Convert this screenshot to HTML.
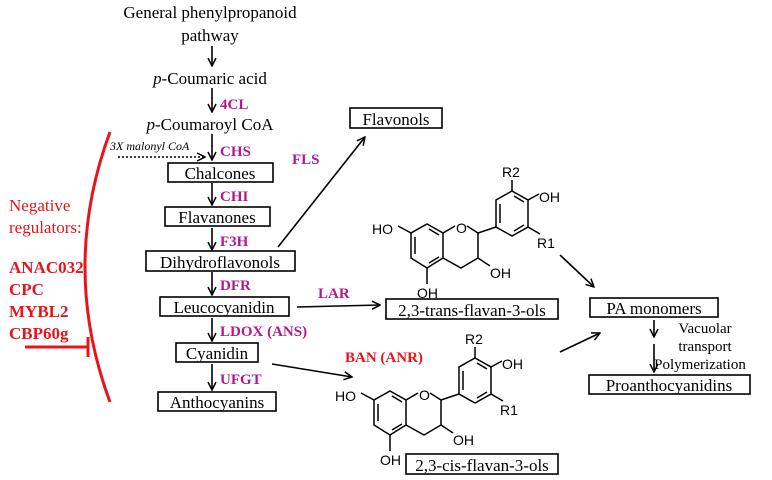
<!DOCTYPE html>
<html><head><meta charset="utf-8"><style>
body{margin:0;background:#fff}
svg{display:block}
.t{font-family:"Liberation Serif",serif;font-size:17px;fill:#000}
.e{font-family:"Liberation Serif",serif;font-size:15px;font-weight:bold;fill:#b3198c}
.r{font-family:"Liberation Serif",serif;fill:#e8141c}
.c{font-family:"Liberation Sans",sans-serif;font-size:14px;fill:#000}
</style></head><body>
<svg width="772" height="480" viewBox="0 0 772 480" xmlns="http://www.w3.org/2000/svg">
<defs>
<marker id="a" markerWidth="10" markerHeight="10" refX="9" refY="5" orient="auto" markerUnits="userSpaceOnUse"><path d="M1,1 L9,5 L1,9" fill="none" stroke="#000" stroke-width="1.5"/></marker>
</defs>
<g stroke="#000" stroke-width="1.6" fill="none">
<line x1="212" y1="46" x2="212" y2="66" marker-end="url(#a)"/>
<line x1="212" y1="88" x2="212" y2="112" marker-end="url(#a)"/>
<line x1="212" y1="134" x2="212" y2="160" marker-end="url(#a)"/>
<line x1="212" y1="183" x2="212" y2="205" marker-end="url(#a)"/>
<line x1="212" y1="228" x2="212" y2="250" marker-end="url(#a)"/>
<line x1="212" y1="272" x2="212" y2="295" marker-end="url(#a)"/>
<line x1="212" y1="318" x2="212" y2="341" marker-end="url(#a)"/>
<line x1="212" y1="364" x2="212" y2="390" marker-end="url(#a)"/>
<line x1="118" y1="157" x2="205" y2="157" stroke-dasharray="2,2" marker-end="url(#a)"/>
<line x1="278" y1="247" x2="365" y2="137" marker-end="url(#a)"/>
<line x1="297" y1="307" x2="380" y2="305" marker-end="url(#a)"/>
<line x1="272" y1="364" x2="352" y2="377" marker-end="url(#a)"/>
<line x1="560" y1="255" x2="594" y2="287" marker-end="url(#a)"/>
<line x1="560" y1="352" x2="600" y2="333" marker-end="url(#a)"/>
<line x1="654" y1="320" x2="654" y2="337" marker-end="url(#a)"/>
<line x1="654" y1="344" x2="654" y2="372" marker-end="url(#a)"/>
<rect x="168" y="163" width="105" height="19"/>
<rect x="165" y="207" width="105" height="19"/>
<rect x="146" y="251" width="149" height="20"/>
<rect x="160" y="297" width="129" height="19"/>
<rect x="176" y="343" width="82" height="19"/>
<rect x="158" y="392" width="118" height="19"/>
<rect x="350" y="108" width="92" height="20"/>
<rect x="386" y="299" width="172" height="20"/>
<rect x="406" y="454" width="152" height="20"/>
<rect x="590" y="298" width="128" height="19"/>
<rect x="589" y="375" width="161" height="19"/>
</g>
<g class="t" text-anchor="middle">
<text x="210" y="18">General phenylpropanoid</text>
<text x="210" y="41">pathway</text>
<text x="210" y="84"><tspan font-style="italic">p</tspan>-Coumaric acid</text>
<text x="210" y="130"><tspan font-style="italic">p</tspan>-Coumaroyl CoA</text>
<text x="220" y="179">Chalcones</text>
<text x="217" y="223">Flavanones</text>
<text x="220" y="268">Dihydroflavonols</text>
<text x="224" y="313">Leucocyanidin</text>
<text x="217" y="359">Cyanidin</text>
<text x="217" y="408">Anthocyanins</text>
<text x="396" y="125">Flavonols</text>
<text x="472" y="316">2,3-trans-flavan-3-ols</text>
<text x="482" y="471">2,3-cis-flavan-3-ols</text>
<text x="654" y="314">PA monomers</text>
<text x="669" y="391">Proanthocyanidins</text>
</g>
<g class="t" style="font-size:15px" text-anchor="middle">
<text x="705" y="333">Vacuolar</text>
<text x="705" y="351">transport</text>
<text x="700" y="369">Polymerization</text>
</g>
<text x="110" y="150" class="t" style="font-size:12px;font-style:italic">3X malonyl CoA</text>
<g class="e">
<text x="220" y="109">4CL</text>
<text x="220" y="156">CHS</text>
<text x="220" y="201">CHI</text>
<text x="220" y="246">F3H</text>
<text x="220" y="290">DFR</text>
<text x="220" y="336">LDOX (ANS)</text>
<text x="220" y="384">UFGT</text>
<text x="292" y="164">FLS</text>
<text x="318" y="298">LAR</text>
</g>
<text x="345" y="362" class="r" style="font-size:15px;font-weight:bold">BAN (ANR)</text>
<g class="r" style="font-size:17px">
<text x="9" y="211">Negative</text>
<text x="9" y="233">regulators:</text>
</g>
<g class="r" style="font-size:17px;font-weight:bold">
<text x="9" y="273">ANAC032</text>
<text x="9" y="295">CPC</text>
<text x="9" y="317">MYBL2</text>
<text x="9" y="339">CBP60g</text>
</g>
<g stroke="#e8141c" stroke-width="3" fill="none">
<path d="M110,132 Q60,267 110,402"/>
<line x1="25" y1="347" x2="88" y2="347"/>
<line x1="88" y1="337" x2="88" y2="357"/>
</g>
<defs>
<g id="s">
<g stroke="#000" stroke-width="1.5" fill="none">
<path d="M427,224 L443,233 L443,258 L427,268 L411,258 L411,233 Z"/>
<path d="M415,237 L415,254 M429,229 L439,235 M429,263 L439,257"/>
<path d="M443,233 L455,226 M467,226 L478,233 L478,258 L461,268 L443,258"/>
<path d="M411,233 L398,226 M427,268 L427,284 M478,258 L490,266"/>
<path d="M478,233 L496,227"/>
<path d="M512,191 L528,200 L528,227 L512,236 L496,227 L496,200 Z"/>
<path d="M500,204 L500,223 M514,196 L524,202 M514,231 L524,225"/>
<path d="M512,191 L512,180 M528,200 L539,194 M528,227 L540,234"/>
</g>
<g class="c">
<text x="456" y="233">O</text>
<text x="372" y="234">HO</text>
<text x="417" y="298">OH</text>
<text x="490" y="278">OH</text>
<text x="502" y="177">R2</text>
<text x="539" y="202">OH</text>
<text x="537" y="248">R1</text>
</g>
</g>
</defs>
<use href="#s"/>
<use href="#s" transform="translate(-37,167)"/>
</svg>
</body></html>
